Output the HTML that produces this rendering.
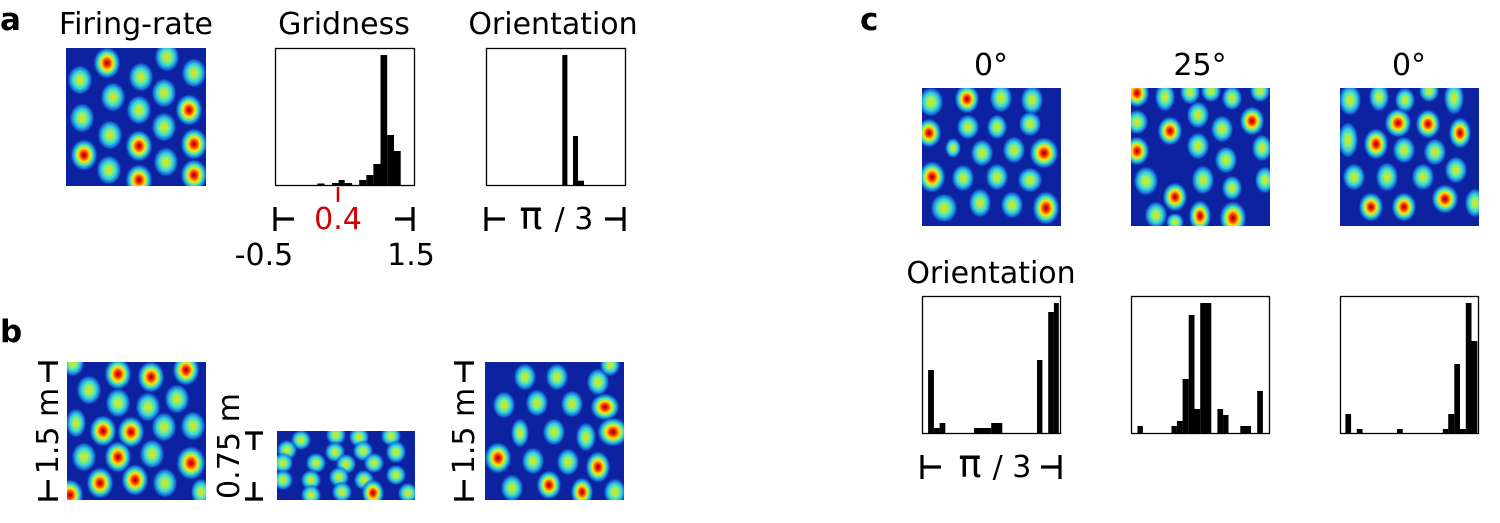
<!DOCTYPE html>
<html><head><meta charset="utf-8"><style>
html,body{margin:0;padding:0;background:#fff;}
svg{display:block;font-family:"DejaVu Sans","Liberation Sans",sans-serif;}
ellipse{transform-box:fill-box;transform-origin:center;transform:scale(1.18);}
</style></head><body>
<svg width="1500" height="523" viewBox="0 0 1500 523" xmlns="http://www.w3.org/2000/svg">
<defs>
<radialGradient id="s">
<stop offset="0" stop-color="#8a0000"/><stop offset="0.2" stop-color="#ff2a00"/><stop offset="0.42" stop-color="#ffe600"/><stop offset="0.62" stop-color="#40e8c0"/><stop offset="0.82" stop-color="#1c7fe6" stop-opacity="0.85"/><stop offset="1" stop-color="#0d22a0" stop-opacity="0"/>
</radialGradient>
<radialGradient id="w">
<stop offset="0" stop-color="#f0e000"/><stop offset="0.3" stop-color="#90f070"/><stop offset="0.58" stop-color="#30d0e0"/><stop offset="0.82" stop-color="#1c7fe6" stop-opacity="0.75"/><stop offset="1" stop-color="#0d22a0" stop-opacity="0"/>
</radialGradient>
<clipPath id="ca"><rect x="66" y="48" width="140" height="138"/></clipPath>
<clipPath id="cb1"><rect x="67" y="362" width="139" height="138"/></clipPath>
<clipPath id="cb2"><rect x="277" y="431" width="138" height="69"/></clipPath>
<clipPath id="cb3"><rect x="485" y="362" width="139" height="138"/></clipPath>
<clipPath id="cc1"><rect x="922" y="88" width="139" height="138"/></clipPath>
<clipPath id="cc2"><rect x="1131" y="88" width="139" height="138"/></clipPath>
<clipPath id="cc3"><rect x="1340" y="88" width="139" height="138"/></clipPath>
</defs>

<text x="0" y="30" font-size="31" font-weight="bold">a</text>
<text x="0" y="342" font-size="31" font-weight="bold">b</text>
<text x="860" y="30" font-size="31" font-weight="bold">c</text>

<text x="136" y="34" font-size="30" text-anchor="middle">Firing-rate</text>
<text x="344" y="34" font-size="30" text-anchor="middle">Gridness</text>
<text x="553" y="34" font-size="30" text-anchor="middle">Orientation</text>

<g clip-path="url(#ca)">
<rect x="66" y="48" width="140" height="138" fill="#0d22a0"/>
<g fill="url(#w)">
<ellipse cx="167" cy="57" rx="11" ry="13"/><ellipse cx="194" cy="73" rx="11" ry="13"/><ellipse cx="80" cy="80" rx="11" ry="13"/><ellipse cx="141" cy="77" rx="11" ry="13"/><ellipse cx="113" cy="97" rx="11" ry="13"/><ellipse cx="164" cy="93" rx="11" ry="13"/><ellipse cx="82" cy="118" rx="11" ry="13"/><ellipse cx="139" cy="110" rx="11" ry="13"/><ellipse cx="110" cy="135" rx="11" ry="13"/><ellipse cx="164" cy="127" rx="11" ry="13"/><ellipse cx="166" cy="162" rx="11" ry="13"/><ellipse cx="109" cy="170" rx="11" ry="13"/>
</g>
<g fill="url(#s)">
<ellipse cx="107" cy="63" rx="12" ry="14"/><ellipse cx="189" cy="110" rx="12" ry="14"/><ellipse cx="139" cy="146" rx="12" ry="14"/><ellipse cx="194" cy="144" rx="12" ry="14"/><ellipse cx="84" cy="155" rx="12" ry="14"/><ellipse cx="139" cy="180" rx="12" ry="14"/><ellipse cx="194" cy="175" rx="12" ry="14"/>
</g>
</g>

<rect x="275.5" y="48.5" width="139" height="137" fill="none" stroke="#000" stroke-width="1.3"/>
<g fill="#000">
<rect x="317.4" y="183.5" width="7.1" height="2.5"/>
<rect x="331.9" y="183" width="6.7" height="3"/>
<rect x="338.6" y="180" width="6.1" height="6"/>
<rect x="344.7" y="183" width="7.4" height="3"/>
<rect x="359.2" y="180" width="7.1" height="6"/>
<rect x="366.3" y="175" width="7.1" height="11"/>
<rect x="373.4" y="164" width="7.1" height="22"/>
<rect x="380.5" y="55" width="6.7" height="131"/>
<rect x="387.2" y="135" width="6.8" height="51"/>
<rect x="394" y="151" width="6.7" height="35"/>
</g>
<line x1="338" y1="187" x2="338" y2="202" stroke="#d00000" stroke-width="2.5"/>
<g stroke="#000" stroke-width="3.2" fill="none">
<path d="M275 207 V231 M275 219 H294"/>
<path d="M413 207 V231 M413 219 H395"/>
<path d="M486 207 V231 M486 219 H505"/>
<path d="M624 207 V231 M624 219 H605"/>
<path d="M922 455 V479 M922 467 H941"/>
<path d="M1060 455 V479 M1060 467 H1041"/>
<path d="M38 499 H58 M48 499 V480"/>
<path d="M38 363 H58 M48 363 V382"/>
<path d="M454 499 H474 M464 499 V480"/>
<path d="M454 363 H474 M464 363 V382"/>
<path d="M245 499 H263 M254 499 V482"/>
<path d="M245 433 H263 M254 433 V450"/>
</g>
<text x="338" y="229" font-size="30" fill="#d00000" text-anchor="middle">0.4</text>
<text x="264" y="265" font-size="30" text-anchor="middle">-0.5</text>
<text x="411" y="265" font-size="30" text-anchor="middle">1.5</text>

<rect x="486.5" y="48.5" width="139" height="137" fill="none" stroke="#000" stroke-width="1.3"/>
<g fill="#000">
<rect x="562.3" y="55" width="5.1" height="131"/>
<rect x="573" y="136" width="5" height="50"/>
<rect x="578" y="180.7" width="6" height="5.3"/>
</g>
<text x="531" y="229" font-size="38" text-anchor="middle">π</text>
<text x="574" y="229" font-size="30" text-anchor="middle">/ 3</text>

<text transform="translate(58,431) rotate(-90)" font-size="30" text-anchor="middle">1.5 m</text>
<g clip-path="url(#cb1)">
<rect x="67" y="362" width="139" height="138" fill="#0d22a0"/>
<g fill="url(#w)">
<ellipse cx="73" cy="363" rx="10" ry="12"/><ellipse cx="89" cy="390" rx="11" ry="13"/><ellipse cx="118" cy="403" rx="11" ry="13"/><ellipse cx="148" cy="407" rx="11" ry="13"/><ellipse cx="177" cy="399" rx="11" ry="13"/><ellipse cx="76" cy="423" rx="9" ry="13"/><ellipse cx="164" cy="427" rx="11" ry="13"/><ellipse cx="193" cy="426" rx="11" ry="13"/><ellipse cx="84" cy="457" rx="11" ry="13"/><ellipse cx="152" cy="454" rx="11" ry="13"/><ellipse cx="165" cy="483" rx="11" ry="13"/><ellipse cx="201" cy="492" rx="9" ry="12"/>
</g>
<g fill="url(#s)">
<ellipse cx="118" cy="374" rx="12" ry="14"/><ellipse cx="151" cy="377" rx="12" ry="14"/><ellipse cx="186" cy="370" rx="12" ry="14"/><ellipse cx="103" cy="431" rx="12" ry="14"/><ellipse cx="131" cy="432" rx="12" ry="14"/><ellipse cx="118" cy="457" rx="12" ry="14"/><ellipse cx="191" cy="463" rx="13" ry="15"/><ellipse cx="100" cy="483" rx="12" ry="14"/><ellipse cx="135" cy="480" rx="12" ry="14"/><ellipse cx="70" cy="495" rx="12" ry="14"/>
</g>
</g>

<text transform="translate(239,446) rotate(-90)" font-size="30" text-anchor="middle" textLength="106" lengthAdjust="spacingAndGlyphs">0.75 m</text>
<g clip-path="url(#cb2)">
<rect x="277" y="431" width="138" height="69" fill="#0d22a0"/>
<g fill="url(#w)">
<ellipse cx="301" cy="440" rx="9" ry="9"/><ellipse cx="336" cy="435" rx="9" ry="9"/><ellipse cx="359" cy="437" rx="9" ry="9"/><ellipse cx="391" cy="436" rx="9" ry="9"/><ellipse cx="287" cy="450" rx="9" ry="9"/><ellipse cx="335" cy="452" rx="9" ry="9"/><ellipse cx="363" cy="451" rx="9" ry="9"/><ellipse cx="396" cy="452" rx="9" ry="10"/><ellipse cx="283" cy="463" rx="9" ry="9"/><ellipse cx="316" cy="463" rx="9" ry="9"/><ellipse cx="346" cy="464" rx="9" ry="9"/><ellipse cx="374" cy="463" rx="9" ry="9"/><ellipse cx="283" cy="480" rx="9" ry="9"/><ellipse cx="311" cy="480" rx="9" ry="9"/><ellipse cx="339" cy="477" rx="9" ry="9"/><ellipse cx="364" cy="480" rx="9" ry="9"/><ellipse cx="396" cy="475" rx="9" ry="9"/><ellipse cx="311" cy="495" rx="9" ry="9"/><ellipse cx="342" cy="492" rx="9" ry="9"/><ellipse cx="408" cy="493" rx="9" ry="9"/>
</g>
<ellipse cx="373" cy="493" rx="10" ry="12" fill="url(#s)"/>
</g>

<text transform="translate(474,431) rotate(-90)" font-size="30" text-anchor="middle">1.5 m</text>
<g clip-path="url(#cb3)">
<rect x="485" y="362" width="139" height="138" fill="#0d22a0"/>
<g fill="url(#w)">
<ellipse cx="525" cy="377" rx="10" ry="12"/><ellipse cx="557" cy="377" rx="10" ry="12"/><ellipse cx="598" cy="382" rx="10" ry="12"/><ellipse cx="504" cy="405" rx="10" ry="12"/><ellipse cx="537" cy="403" rx="10" ry="12"/><ellipse cx="572" cy="404" rx="10" ry="12"/><ellipse cx="520" cy="433" rx="8" ry="13"/><ellipse cx="554" cy="432" rx="10" ry="12"/><ellipse cx="586" cy="437" rx="9" ry="13"/><ellipse cx="533" cy="461" rx="10" ry="12"/><ellipse cx="568" cy="462" rx="10" ry="12"/><ellipse cx="512" cy="488" rx="10" ry="12"/><ellipse cx="615" cy="492" rx="10" ry="12"/><ellipse cx="610" cy="365" rx="9" ry="10"/>
</g>
<g fill="url(#s)">
<ellipse cx="605" cy="407" rx="13" ry="12"/><ellipse cx="613" cy="432" rx="14" ry="13"/><ellipse cx="498" cy="458" rx="12" ry="14"/><ellipse cx="598" cy="467" rx="11" ry="14"/><ellipse cx="582" cy="492" rx="10" ry="13"/><ellipse cx="549" cy="485" rx="11" ry="13"/>
</g>
</g>

<text x="991" y="75" font-size="30" text-anchor="middle">0°</text>
<text x="1200" y="75" font-size="30" text-anchor="middle">25°</text>
<text x="1409" y="75" font-size="30" text-anchor="middle">0°</text>

<g clip-path="url(#cc1)">
<rect x="922" y="88" width="139" height="138" fill="#0d22a0"/>
<g fill="url(#w)">
<ellipse cx="931" cy="102" rx="11" ry="13"/><ellipse cx="1001" cy="98" rx="10" ry="13"/><ellipse cx="1032" cy="100" rx="10" ry="13"/><ellipse cx="968" cy="127" rx="10" ry="11"/><ellipse cx="997" cy="127" rx="9" ry="11"/><ellipse cx="1030" cy="124" rx="10" ry="11"/><ellipse cx="953" cy="148" rx="7" ry="9"/><ellipse cx="982" cy="153" rx="10" ry="12"/><ellipse cx="1014" cy="150" rx="10" ry="12"/><ellipse cx="963" cy="178" rx="10" ry="12"/><ellipse cx="997" cy="177" rx="10" ry="12"/><ellipse cx="1030" cy="180" rx="11" ry="11"/><ellipse cx="944" cy="208" rx="12" ry="13"/><ellipse cx="980" cy="203" rx="10" ry="13"/><ellipse cx="1012" cy="205" rx="10" ry="12"/>
</g>
<g fill="url(#s)">
<ellipse cx="967" cy="99" rx="11" ry="13"/><ellipse cx="929" cy="133" rx="11" ry="13"/><ellipse cx="1044" cy="153" rx="13" ry="14"/><ellipse cx="932" cy="177" rx="12" ry="14"/><ellipse cx="1046" cy="208" rx="12" ry="15"/>
</g>
</g>

<g clip-path="url(#cc2)">
<rect x="1131" y="88" width="139" height="138" fill="#0d22a0"/>
<g fill="url(#w)">
<ellipse cx="1165" cy="97" rx="9" ry="13"/><ellipse cx="1190" cy="92" rx="9" ry="11"/><ellipse cx="1211" cy="91" rx="9" ry="10"/><ellipse cx="1232" cy="98" rx="9" ry="11"/><ellipse cx="1260" cy="91" rx="9" ry="10"/><ellipse cx="1198" cy="115" rx="10" ry="12"/><ellipse cx="1222" cy="129" rx="10" ry="12"/><ellipse cx="1137" cy="122" rx="10" ry="11"/><ellipse cx="1198" cy="146" rx="10" ry="12"/><ellipse cx="1226" cy="160" rx="10" ry="12"/><ellipse cx="1262" cy="148" rx="9" ry="12"/><ellipse cx="1146" cy="181" rx="11" ry="13"/><ellipse cx="1203" cy="180" rx="10" ry="13"/><ellipse cx="1232" cy="188" rx="9" ry="11"/><ellipse cx="1265" cy="180" rx="9" ry="12"/><ellipse cx="1156" cy="215" rx="10" ry="12"/><ellipse cx="1175" cy="222" rx="8" ry="8"/>
</g>
<g fill="url(#s)">
<ellipse cx="1137" cy="93" rx="11" ry="13"/><ellipse cx="1170" cy="131" rx="11" ry="13"/><ellipse cx="1252" cy="121" rx="11" ry="13"/><ellipse cx="1137" cy="151" rx="11" ry="13"/><ellipse cx="1175" cy="197" rx="11" ry="13"/><ellipse cx="1233" cy="218" rx="12" ry="15"/><ellipse cx="1200" cy="216" rx="10" ry="14"/>
</g>
</g>

<g clip-path="url(#cc3)">
<rect x="1340" y="88" width="139" height="138" fill="#0d22a0"/>
<g fill="url(#w)">
<ellipse cx="1350" cy="100" rx="10" ry="14"/><ellipse cx="1379" cy="97" rx="9" ry="13"/><ellipse cx="1405" cy="100" rx="9" ry="11"/><ellipse cx="1429" cy="91" rx="9" ry="10"/><ellipse cx="1454" cy="98" rx="9" ry="15"/><ellipse cx="1348" cy="140" rx="9" ry="16"/><ellipse cx="1404" cy="150" rx="10" ry="12"/><ellipse cx="1435" cy="152" rx="10" ry="12"/><ellipse cx="1354" cy="177" rx="10" ry="12"/><ellipse cx="1387" cy="177" rx="10" ry="13"/><ellipse cx="1423" cy="177" rx="10" ry="12"/><ellipse cx="1456" cy="170" rx="10" ry="12"/><ellipse cx="1475" cy="203" rx="9" ry="13"/>
</g>
<g fill="url(#s)">
<ellipse cx="1398" cy="123" rx="12" ry="13"/><ellipse cx="1428" cy="124" rx="11" ry="13"/><ellipse cx="1376" cy="144" rx="11" ry="14"/><ellipse cx="1460" cy="133" rx="10" ry="14"/><ellipse cx="1371" cy="207" rx="11" ry="13"/><ellipse cx="1404" cy="207" rx="11" ry="13"/><ellipse cx="1445" cy="199" rx="12" ry="13"/>
</g>
</g>

<text x="991" y="283" font-size="30" text-anchor="middle">Orientation</text>

<rect x="922.5" y="296.5" width="138" height="137" fill="none" stroke="#000" stroke-width="1.3"/>
<g fill="#000">
<rect x="928.1" y="370" width="5.8" height="63"/>
<rect x="933.9" y="428" width="5.7" height="5"/>
<rect x="939.6" y="423" width="5.7" height="10"/>
<rect x="974" y="428" width="17.2" height="5"/>
<rect x="991.2" y="423" width="11.1" height="10"/>
<rect x="1037" y="360" width="5.4" height="73"/>
<rect x="1048.2" y="312" width="5.7" height="121"/>
<rect x="1053.9" y="303" width="4.9" height="130"/>
</g>
<text x="970" y="477" font-size="38" text-anchor="middle">π</text>
<text x="1012" y="477" font-size="30" text-anchor="middle">/ 3</text>

<rect x="1131.5" y="296.5" width="138" height="137" fill="none" stroke="#000" stroke-width="1.3"/>
<g fill="#000">
<rect x="1137.5" y="426" width="5.4" height="7"/>
<rect x="1171.5" y="426" width="5.4" height="7"/>
<rect x="1176.9" y="421" width="5.7" height="12"/>
<rect x="1182.6" y="379" width="6.1" height="54"/>
<rect x="1188.7" y="315" width="5.8" height="118"/>
<rect x="1194.5" y="409" width="5.7" height="24"/>
<rect x="1200.2" y="303" width="11.1" height="130"/>
<rect x="1217.4" y="409" width="5.7" height="24"/>
<rect x="1223.1" y="415" width="5.4" height="18"/>
<rect x="1240.3" y="426" width="10.7" height="7"/>
<rect x="1257.2" y="391" width="5.7" height="42"/>
</g>

<rect x="1340.5" y="296.5" width="138" height="137" fill="none" stroke="#000" stroke-width="1.3"/>
<g fill="#000">
<rect x="1345.4" y="414" width="5.7" height="19"/>
<rect x="1356.8" y="429" width="5.8" height="4"/>
<rect x="1397" y="429" width="5.7" height="4"/>
<rect x="1442.8" y="429" width="5.4" height="4"/>
<rect x="1448.2" y="414" width="6.1" height="19"/>
<rect x="1454.3" y="364" width="5.7" height="69"/>
<rect x="1460" y="429" width="5.8" height="4"/>
<rect x="1465.8" y="303" width="5.7" height="130"/>
<rect x="1471.5" y="341" width="5.8" height="92"/>
</g>
</svg>
</body></html>
